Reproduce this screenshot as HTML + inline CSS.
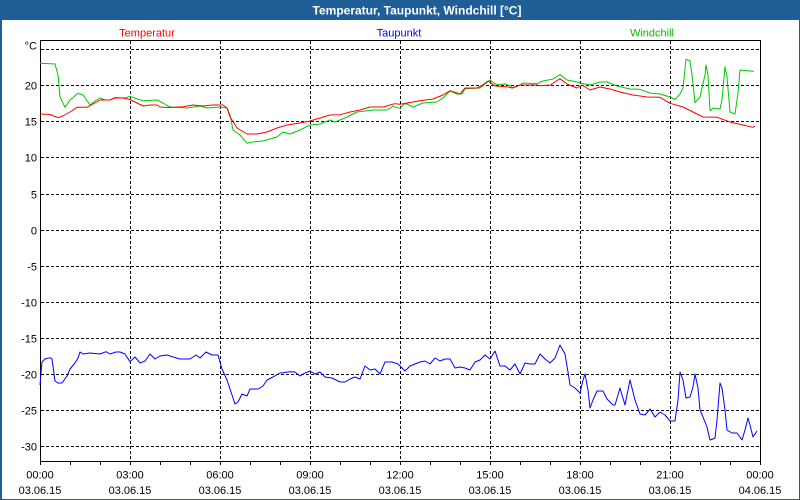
<!DOCTYPE html>
<html>
<head>
<meta charset="utf-8">
<style>
html,body{margin:0;padding:0;background:#fff;}
body{width:800px;height:500px;overflow:hidden;}
svg{display:block;}
text{font-family:"Liberation Sans",Arial,sans-serif;}
</style>
</head>
<body>
<svg width="800" height="500" viewBox="0 0 800 500" xmlns="http://www.w3.org/2000/svg">
<rect x="0" y="0" width="800" height="500" fill="#ffffff"/>
<!-- window frame -->
<rect x="0" y="0" width="800" height="20" fill="#1f5e96"/>
<rect x="0" y="0" width="2" height="500" fill="#1f5e96"/>
<rect x="799" y="0" width="1" height="500" fill="#1f5e96"/>
<rect x="0" y="499" width="800" height="1" fill="#1f5e96"/>
<text x="417" y="14.5" font-size="12" font-weight="bold" fill="#ffffff" text-anchor="middle">Temperatur, Taupunkt, Windchill [°C]</text>

<!-- legend -->
<text x="147" y="36.5" font-size="11" fill="#ff0000" text-anchor="middle">Temperatur</text>
<text x="399" y="36.5" font-size="11" fill="#0000ff" text-anchor="middle">Taupunkt</text>
<text x="652" y="36.5" font-size="11" fill="#00c000" text-anchor="middle">Windchill</text>

<!-- grid -->
<g stroke="#000" stroke-width="1" stroke-dasharray="3,2" shape-rendering="crispEdges">
<line x1="41" y1="49.5" x2="760" y2="49.5"/>
<line x1="41" y1="85.5" x2="760" y2="85.5"/>
<line x1="41" y1="121.5" x2="760" y2="121.5"/>
<line x1="41" y1="157.5" x2="760" y2="157.5"/>
<line x1="41" y1="194.5" x2="760" y2="194.5"/>
<line x1="41" y1="230.5" x2="760" y2="230.5"/>
<line x1="41" y1="266.5" x2="760" y2="266.5"/>
<line x1="41" y1="302.5" x2="760" y2="302.5"/>
<line x1="41" y1="338.5" x2="760" y2="338.5"/>
<line x1="41" y1="374.5" x2="760" y2="374.5"/>
<line x1="41" y1="410.5" x2="760" y2="410.5"/>
<line x1="41" y1="446.5" x2="760" y2="446.5"/>
<line x1="130.5" y1="41" x2="130.5" y2="461"/>
<line x1="220.5" y1="41" x2="220.5" y2="461"/>
<line x1="310.5" y1="41" x2="310.5" y2="461"/>
<line x1="400.5" y1="41" x2="400.5" y2="461"/>
<line x1="490.5" y1="41" x2="490.5" y2="461"/>
<line x1="580.5" y1="41" x2="580.5" y2="461"/>
<line x1="670.5" y1="41" x2="670.5" y2="461"/>
</g>

<!-- frame -->
<rect x="40.5" y="40.5" width="720" height="421" fill="none" stroke="#000" stroke-width="1" shape-rendering="crispEdges"/>

<!-- x ticks -->
<g stroke="#000" stroke-width="1" shape-rendering="crispEdges">
<line x1="40.5" y1="461" x2="40.5" y2="465"/>
<line x1="70.5" y1="461" x2="70.5" y2="465"/>
<line x1="100.5" y1="461" x2="100.5" y2="465"/>
<line x1="130.5" y1="461" x2="130.5" y2="465"/>
<line x1="160.5" y1="461" x2="160.5" y2="465"/>
<line x1="190.5" y1="461" x2="190.5" y2="465"/>
<line x1="220.5" y1="461" x2="220.5" y2="465"/>
<line x1="250.5" y1="461" x2="250.5" y2="465"/>
<line x1="280.5" y1="461" x2="280.5" y2="465"/>
<line x1="310.5" y1="461" x2="310.5" y2="465"/>
<line x1="340.5" y1="461" x2="340.5" y2="465"/>
<line x1="370.5" y1="461" x2="370.5" y2="465"/>
<line x1="400.5" y1="461" x2="400.5" y2="465"/>
<line x1="430.5" y1="461" x2="430.5" y2="465"/>
<line x1="460.5" y1="461" x2="460.5" y2="465"/>
<line x1="490.5" y1="461" x2="490.5" y2="465"/>
<line x1="520.5" y1="461" x2="520.5" y2="465"/>
<line x1="550.5" y1="461" x2="550.5" y2="465"/>
<line x1="580.5" y1="461" x2="580.5" y2="465"/>
<line x1="610.5" y1="461" x2="610.5" y2="465"/>
<line x1="640.5" y1="461" x2="640.5" y2="465"/>
<line x1="670.5" y1="461" x2="670.5" y2="465"/>
<line x1="700.5" y1="461" x2="700.5" y2="465"/>
<line x1="730.5" y1="461" x2="730.5" y2="465"/>
<line x1="760.5" y1="461" x2="760.5" y2="465"/>
</g>

<!-- y labels -->
<g font-size="11" fill="#000" text-anchor="end">
<text x="37" y="49.5">°C</text>
<text x="37" y="89.5">20</text>
<text x="37" y="125.5">15</text>
<text x="37" y="161.5">10</text>
<text x="37" y="198.5">5</text>
<text x="37" y="234.5">0</text>
<text x="37" y="270.5">-5</text>
<text x="37" y="306.5">-10</text>
<text x="37" y="342.5">-15</text>
<text x="37" y="378.5">-20</text>
<text x="37" y="414.5">-25</text>
<text x="37" y="450.5">-30</text>
</g>

<!-- x labels -->
<g font-size="11" fill="#000" text-anchor="middle">
<text x="40" y="478.5">00:00</text><text x="40" y="494">03.06.15</text>
<text x="130" y="478.5">03:00</text><text x="130" y="494">03.06.15</text>
<text x="220" y="478.5">06:00</text><text x="220" y="494">03.06.15</text>
<text x="310" y="478.5">09:00</text><text x="310" y="494">03.06.15</text>
<text x="400" y="478.5">12:00</text><text x="400" y="494">03.06.15</text>
<text x="490" y="478.5">15:00</text><text x="490" y="494">03.06.15</text>
<text x="580" y="478.5">18:00</text><text x="580" y="494">03.06.15</text>
<text x="670" y="478.5">21:00</text><text x="670" y="494">03.06.15</text>
<text x="760" y="478.5">00:00</text><text x="760" y="494">04.06.15</text>
</g>

<!-- series -->
<g fill="none" stroke-width="1" stroke-linejoin="round">
<polyline stroke="#00c800" points="40,63.3 55,64 58,75 60,96.7 65,107.3 70,100 78,93.3 83,95 90,105 95,101 100,98 105,100 110,100 115,97.5 125,98 130,96.3 137,99 143,100.7 157,100 163,103 170,107 187,108 200,106 207,108 220,107 227,108 230,115 233,130 240,135 247,143.3 253,142 263,141 277,137 283,132 290,134 300,130 310,125 320,124 330,120 335,122 347,117 357,112 373,110 387,110 393,106.3 400,108.3 404,104 407,104 413,107 423,103 437,102 443,98 450,91 457,94 462,94 465,88.7 480,88 490,80 496,84.7 505,84 510,86 513,88 518,86 523,83 537,83.7 543,81 553,79 560,74.7 567,80 577,82 580,83 590,85 600,82 607,82 617,86 630,89 640,89.3 650,93 660,94 670,97 675,99.5 680,94 683,88 686,59.5 690,60.7 692,75 695,102.7 700,97 705,75 706,65 708,75 710,111 713,108 720,109 722,100 725,66.7 727,77 730,112 735,114 738,93 740,70 747,70.7 754,71.3"/>
<polyline stroke="#ff0000" points="40,114 50,114.5 58,117.7 63,116 70,112 77,107.3 87,107.3 100,100 110,100 115,98 123,98 130,99.5 137,103 143,106 150,105 157,105 160,107 170,107.5 183,106.7 193,105 203,106 213,105 223,105 227,108 230,116.7 237,128 247,134 257,134 267,132 277,128 287,125 300,123 310,121 320,118 330,115 340,114.7 350,112 360,110 370,107 383,107 390,105 395,103.7 400,104.3 413,102 420,100.7 433,99 443,95 450,90.7 457,93 460,94 465,88 477,88 482,85.5 488,81 495,86 507,86.7 512,88 520,85 537,85 540,85.7 550,85 560,78.7 567,84 577,88 582,85 590,90 600,87 610,89 620,92 633,95 647,97 660,97.3 670,103.3 683,107 693,112 703,117 717,117.3 730,122 743,125 753,127.3 755,126"/>
<polyline stroke="#0000ff" points="40,385 42,362 45,359 50,357.7 52,359 55,381 58,383 62,383 67,376 70,369 75,363 78,358 80,352 83,354 90,353 100,354 106,351.7 110,354 116,352 120,352 125,354 130,361.7 135,357 140,363 145,361 150,354 155,359 160,356 167,355 173,357 180,359 190,359 196,355 200,358 206,352 212,355 218,355 222,369 227,380 232,395 235,404 238,402 242,394 247,396 250,389 258,389 263,386 267,380 273,377 280,373 283,372.7 290,371.7 295,372 300,376 305,373 310,371 315,374 320,372 325,377 332,378 340,382 345,382 350,379 355,377 360,379 365,366 370,370 375,369 380,374 385,362 392,362 398,364 405,371 410,366 415,364 420,362 425,361 430,364 435,358 440,361 445,359 450,359 455,368 460,367 465,368 470,370 475,362 480,360 485,355 490,359 495,351 500,366 505,366 510,370 515,364 520,374 525,363 530,364 535,364 540,354 545,359 550,363 555,358 560,345 565,354 568,372 570,385 575,388 580,393 583,380 585,374 588,390 590,408 593,400 597,391 603,391 607,399 613,405 615,405 620,388 625,405 630,380 635,400 640,414 645,415 650,409 655,417 660,412 665,415 670,421 675,421 678,400 680,372 683,380 686,398 690,397 693,387 695,374 698,388 700,410 703,417 707,427 710,440 713,439 715,438 717,420 720,383 722,388 725,410 727,430 732,433 737,433 740,437 742,440 745,430 748,418 750,425 753,437 757,431"/>
</g>
</svg>
</body>
</html>
